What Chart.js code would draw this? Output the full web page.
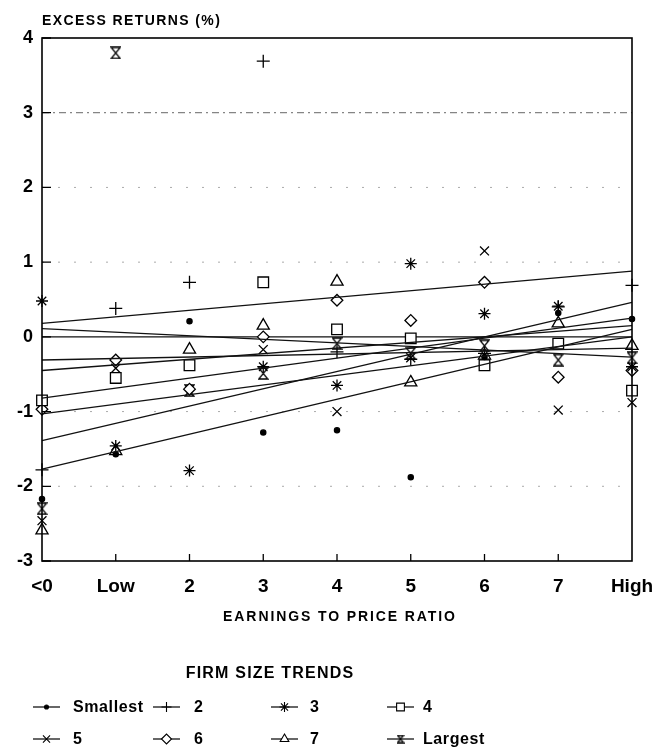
<!DOCTYPE html>
<html>
<head>
<meta charset="utf-8">
<script src="https://cdn.jsdelivr.net/npm/chart.js@4.4.1/dist/chart.umd.min.js"></script>
<style>
  html, body { margin: 0; padding: 0; background: #fff; }
  #wrap { width: 655px; height: 749px; }
</style>
</head>
<body>
<div id="wrap"><canvas id="grafico" width="655" height="749"></canvas></div>
<script>
// ========== Data ==========
const categorias = ["<0", "Low", "2", "3", "4", "5", "6", "7", "High"];
const yTicks = [4, 3, 2, 1, 0, -1, -2, -3];
const grupos = ["Smallest", "2", "3", "4", "5", "6", "7", "Largest"];

// excess returns (%) per E/P category, one array per firm size group
const smallest = [-2.17, -1.57, 0.21, -1.28, -1.25, -1.88, -0.27, 0.32, 0.24];
const size2    = [-1.78, 0.38, 0.73, 3.69, -0.20, -0.30, -0.22, 0.40, 0.69];
const size3    = [0.48, -1.46, -1.79, -0.40, -0.65, 0.98, 0.31, 0.41, -0.40];
const size4    = [-0.85, -0.55, -0.38, 0.73, 0.10, -0.02, -0.38, -0.09, -0.72];
const size5    = [-2.46, -0.42, -0.38, -0.17, -1.00, -0.28, 1.15, -0.98, -0.88];
const size6    = [-0.97, -0.31, -0.70, 0.00, 0.49, 0.22, 0.73, -0.54, -0.45];
const size7    = [-2.59, -1.53, -0.17, 0.15, 0.74, -0.61, -0.25, 0.18, -0.12];
const largest  = [-2.30, 3.80, -0.72, -0.49, -0.09, -0.22, -0.12, -0.31, -0.28];

// trend lines, value at "<0" and at "High"
const trendInicio = [-1.77, 0.18, -0.82, -0.31, -1.03, -0.45, -1.39, 0.11];
const trendFim    = [0.10, 0.88, 0.25, -0.15, 0.00, 0.15, 0.46, -0.27];

const series = [smallest, size2, size3, size4, size5, size6, size7, largest];

// ========== Markers ==========
function ampulheta(w, h) {
  const c = document.createElement("canvas");
  c.width = w; c.height = h;
  const g = c.getContext("2d");
  g.strokeStyle = "#000";
  g.lineWidth = 1.3;
  const a = 1, b = w - 1, t = 1, u = h - 1;
  g.beginPath();
  g.moveTo(a, t); g.lineTo(b, t); g.lineTo(a, u); g.lineTo(b, u); g.closePath();
  g.stroke();
  return c;
}

const marcadores = [
  { style: "circle", r: 2.6, fill: "#000" },
  { style: "cross", r: 6.5, fill: "#fff" },
  { style: "star", r: 6, fill: "#fff" },
  { style: "rect", r: 7.5, fill: "#fff" },
  { style: "crossRot", r: 6.3, fill: "#fff" },
  { style: "rectRot", r: 5.8, fill: "#fff" },
  { style: "triangle", r: 7, fill: "#fff" },
  { style: ampulheta(11, 13), r: 6, fill: "#fff" },
];
const marcadoresLegenda = [
  { style: "circle", r: 2, fill: "#000" },
  { style: "cross", r: 5, fill: "#fff" },
  { style: "star", r: 5, fill: "#fff" },
  { style: "rect", r: 5.5, fill: "#fff" },
  { style: "crossRot", r: 5, fill: "#fff" },
  { style: "rectRot", r: 5, fill: "#fff" },
  { style: "triangle", r: 5, fill: "#fff" },
  { style: ampulheta(8, 9), r: 5, fill: "#fff" },
];

// ========== Datasets ==========
const datasets = [];
grupos.forEach((g, i) => {
  datasets.push({
    label: g + " trend",
    data: [
      { x: categorias[0], y: trendInicio[i] },
      { x: categorias[categorias.length - 1], y: trendFim[i] },
    ],
    borderColor: "#111",
    borderWidth: 1.3,
    pointRadius: 0,
    fill: false,
    clip: false,
  });
});
grupos.forEach((g, i) => {
  const m = marcadores[i];
  datasets.push({
    label: g,
    data: series[i],
    showLine: false,
    pointStyle: m.style,
    pointRadius: m.r,
    pointBorderWidth: 1.3,
    pointBorderColor: "#000",
    pointBackgroundColor: m.fill,
    borderColor: "#000",
    backgroundColor: m.fill,
    clip: false,
  });
});

// ========== Plugin (grid, frame, titles, legend) ==========
const extras = {
  id: "extras",
  beforeDatasetsDraw(chart) {
    const { ctx, chartArea: a, scales } = chart;
    ctx.save();
    yTicks.forEach((v) => {
      if (v === 4 || v === -3) return;
      const y = scales.y.getPixelForValue(v);
      ctx.beginPath();
      if (v === 0) {
        ctx.setLineDash([]);
        ctx.strokeStyle = "#111";
        ctx.lineWidth = 1.2;
      } else {
        ctx.setLineDash(v === 3 ? [7, 4, 2, 4] : [2, 14]);
        ctx.strokeStyle = v === 3 ? "#666" : "#aaa";
        ctx.lineWidth = 1;
      }
      ctx.moveTo(a.left, y);
      ctx.lineTo(a.right, y);
      ctx.stroke();
    });
    ctx.restore();
  },
  afterDatasetsDraw(chart) {
    const { ctx, chartArea: a, scales } = chart;
    ctx.save();
    ctx.strokeStyle = "#000";
    ctx.lineWidth = 1.6;
    ctx.strokeRect(a.left, a.top, a.right - a.left, a.bottom - a.top);
    ctx.lineWidth = 1.3;
    ctx.beginPath();
    yTicks.forEach((v) => {
      const y = scales.y.getPixelForValue(v);
      ctx.moveTo(a.left, y);
      ctx.lineTo(a.left + 9, y);
    });
    categorias.forEach((c, i) => {
      if (i === 0 || i === categorias.length - 1) return;
      const x = scales.x.getPixelForValue(i);
      ctx.moveTo(x, a.bottom);
      ctx.lineTo(x, a.bottom - 7);
    });
    ctx.stroke();
    ctx.restore();
  },
  afterDraw(chart) {
    const { ctx, chartArea: a } = chart;
    ctx.save();
    ctx.fillStyle = "#000";
    ctx.textBaseline = "middle";

    // axis titles
    ctx.font = "bold 14px 'Liberation Sans', Arial, sans-serif";
    ctx.letterSpacing = "1.4px";
    ctx.textAlign = "left";
    ctx.fillText("EXCESS RETURNS (%)", 42, 21);
    ctx.letterSpacing = "1.9px";
    ctx.textAlign = "center";
    ctx.fillText("EARNINGS TO PRICE RATIO", 340, 617);

    // legend
    ctx.font = "bold 16px 'Liberation Sans', Arial, sans-serif";
    ctx.letterSpacing = "1.2px";
    ctx.fillText("FIRM SIZE TRENDS", 270, 674);

    const simboloX = [33, 153, 271, 387];
    const textoX = [73, 194, 310, 423];
    const linhaY = [707, 739];
    ctx.letterSpacing = "0.6px";
    ctx.textAlign = "left";
    grupos.forEach((g, i) => {
      const col = i % 4, row = Math.floor(i / 4);
      const x0 = simboloX[col], y = linhaY[row];
      ctx.strokeStyle = "#000";
      ctx.lineWidth = 1.2;
      ctx.beginPath();
      ctx.moveTo(x0, y);
      ctx.lineTo(x0 + 27, y);
      ctx.stroke();
      const m = marcadoresLegenda[i];
      ctx.fillStyle = m.fill;
      ctx.lineWidth = 1.1;
      Chart.helpers.drawPoint(ctx, { pointStyle: m.style, radius: m.r, rotation: 0, borderWidth: 1.1 }, x0 + 13.5, y);
      ctx.fillStyle = "#000";
      ctx.fillText(g, textoX[col], y + 1);
    });
    ctx.restore();
  },
};

// ========== Chart ==========
new Chart(document.getElementById("grafico"), {
  type: "line",
  data: { labels: categorias, datasets },
  options: {
    responsive: false,
    animation: false,
    events: [],
    layout: { padding: { top: 38, right: 23, left: 0, bottom: 108 } },
    plugins: { legend: { display: false }, tooltip: { enabled: false } },
    scales: {
      x: {
        type: "category",
        offset: false,
        grid: { display: false, drawTicks: false },
        border: { display: false },
        ticks: {
          autoSkip: false,
          maxRotation: 0,
          padding: 14,
          color: "#000",
          font: { family: "'Liberation Sans', Arial, sans-serif", size: 19, weight: "bold" },
        },
        afterFit: (s) => { s.height = 80; s.paddingLeft = 0; s.paddingRight = 0; },
      },
      y: {
        min: -3,
        max: 4,
        grid: { display: false, drawTicks: false },
        border: { display: false },
        ticks: {
          stepSize: 1,
          padding: 9,
          color: "#000",
          font: { family: "'Liberation Sans', Arial, sans-serif", size: 18, weight: "bold" },
        },
        afterFit: (s) => { s.width = 42; s.paddingTop = 0; s.paddingBottom = 0; },
      },
    },
  },
  plugins: [extras],
});
</script>
</body>
</html>
